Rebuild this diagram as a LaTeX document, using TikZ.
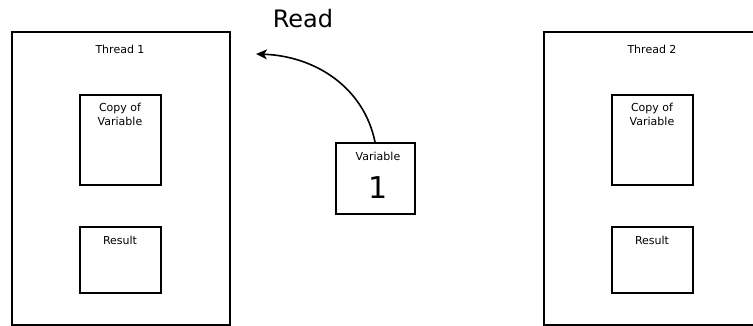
\documentclass[tikz,border=0pt]{standalone}
\usepackage{fontspec}
\setmainfont{DejaVu Sans}
\usetikzlibrary{arrows.meta}
\begin{document}
\begin{tikzpicture}[x=1pt,y=-1pt,
  box/.style={draw,line width=1.6pt,inner sep=0pt,anchor=north west},
  small/.style={font=\fontsize{11}{14}\selectfont,inner sep=0pt,align=center}]
\useasboundingbox (0,0) rectangle (753,326);
% Thread 1
\node[box,minimum width=218pt,minimum height=293pt] (t1) at (11,31) {};
\node[small] (t1l) at (120,49) {Thread 1};
\node[box,minimum width=81pt,minimum height=90pt] (c1) at (79,94) {};
\node[small] (c1l) at (120,114) {Copy of\\Variable};
\node[box,minimum width=81pt,minimum height=66pt] (r1) at (79,226) {};
\node[small] (r1l) at (120,240) {Result};
% Thread 2
\node[box,minimum width=220pt,minimum height=293pt] (t2) at (543,31) {};
\node[small] (t2l) at (652,49) {Thread 2};
\node[box,minimum width=81pt,minimum height=90pt] (c2) at (611,94) {};
\node[small] (c2l) at (652,114) {Copy of\\Variable};
\node[box,minimum width=81pt,minimum height=66pt] (r2) at (611,226) {};
\node[small] (r2l) at (652,240) {Result};
% Variable
\node[box,minimum width=79pt,minimum height=71pt] (v) at (335,142) {};
\node[small] (vl) at (378,156) {Variable};
\node[font=\fontsize{30}{32}\selectfont,inner sep=0pt] (one) at (378,188) {1};
% Read arrow
\node[font=\fontsize{24}{26}\selectfont,inner sep=0pt] (read) at (303,19) {Read};
\coordinate (tip) at (256,54);
\draw[line width=1.6pt,-{Stealth[length=11pt,width=10pt,inset=3pt]}] (v.north -| 375,0) .. controls (364,88) and (316,56) .. (tip);
\end{tikzpicture}
\end{document}
